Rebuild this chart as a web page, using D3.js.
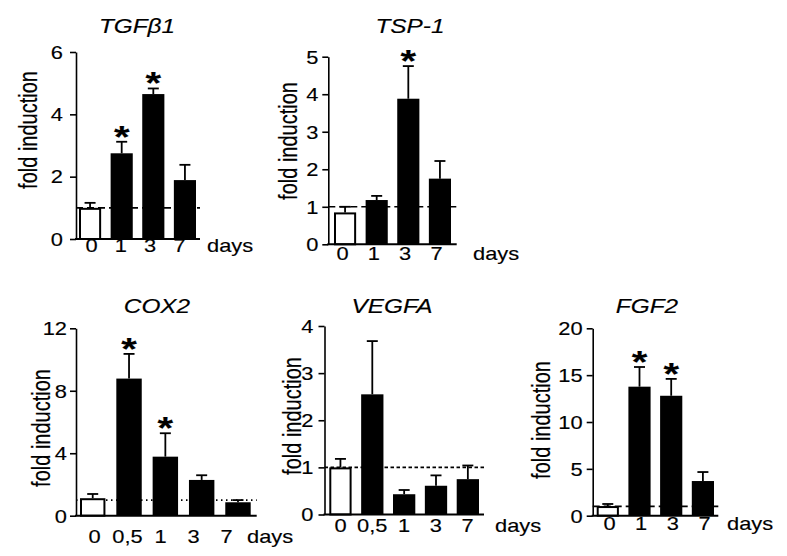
<!DOCTYPE html>
<html>
<head>
<meta charset="utf-8">
<script src="https://cdn.jsdelivr.net/npm/d3@7"></script>
<style>
  html, body { margin: 0; padding: 0; background: #fff; }
  svg text { font-family: "Liberation Sans", Arial, sans-serif; fill: #000; stroke: #000; stroke-width: 0.15px; }
</style>
</head>
<body>
<svg id="chart" width="787" height="556"></svg>
<script>
// ---------- data ----------
const titles = ["TGFβ1", "TSP-1", "COX2", "VEGFA", "FGF2"];
const daysFour = ["0", "1", "3", "7"];
const daysFive = ["0", "0,5", "1", "3", "7"];

const tgfMean = [1.0, 2.75, 4.65, 1.89];
const tgfSem  = [0.16, 0.37, 0.18, 0.49];
const tgfSig  = [false, true, true, false];
const tgfTicks = [0, 2, 4, 6];

const tspMean = [0.85, 1.18, 3.88, 1.75];
const tspSem  = [0.15, 0.11, 0.87, 0.47];
const tspSig  = [false, false, true, false];
const tspTicks = [0, 1, 2, 3, 4, 5];

const coxMean = [1.12, 8.78, 3.78, 2.29, 0.86];
const coxSem  = [0.27, 1.58, 1.5, 0.3, 0.14];
const coxSig  = [false, true, true, false, false];
const coxTicks = [0, 4, 8, 12];

const vegMean = [1.0, 2.55, 0.43, 0.61, 0.75];
const vegSem  = [0.18, 1.13, 0.09, 0.22, 0.29];
const vegSig  = [false, false, false, false, false];
const vegTicks = [0, 1, 2, 3, 4];

const fgfMean = [1.03, 13.77, 12.8, 3.7];
const fgfSem  = [0.22, 2.1, 1.8, 0.96];
const fgfSig  = [false, true, true, false];
const fgfTicks = [0, 5, 10, 15, 20];

const yLabel = "fold induction";
const xUnit = "days";

// ---------- layout (positions / styles) ----------
const layout = [
  { ax: 76,    y0: 239,   yTop: 52,    barL: 79,    barR: 196,   xEnd: 200,   dash: "7,4",
    labRange: [91, 179],  tickPad: 7, xPad: 1,  daysX: 207, titleX: 137, titleY: 33, labX: 37,  labY: 130 },
  { ax: 328.3, y0: 244.3, yTop: 56.7,  barL: 334,   barR: 451,   xEnd: 456.7, dash: "7,4",
    labRange: [342, 436], tickPad: 4, xPad: 3,  daysX: 473, titleX: 410, titleY: 33, labX: 297, labY: 141 },
  { ax: 76,    y0: 515.7, yTop: 328.3, barL: 80,    barR: 250.7, xEnd: 256.7, dash: "1.5,3.5",
    labRange: [94, 226],  tickPad: 3, xPad: 15, daysX: 247, titleX: 157, titleY: 313, labX: 50, labY: 428 },
  { ax: 324.5, y0: 514.5, yTop: 326,   barL: 329.3, barR: 479,   xEnd: 484,   dash: "3.5,2.5",
    labRange: [340, 467], tickPad: 5, xPad: 5,  daysX: 495, titleX: 392, titleY: 313, labX: 301, labY: 416 },
  { ax: 592.7, y0: 515.7, yTop: 328.3, barL: 596.7, barR: 714,   xEnd: 718.3, dash: "7,4",
    labRange: [609, 704], tickPad: 4, xPad: 2,  daysX: 727, titleX: 647, titleY: 313, labX: 550, labY: 420 }
];

const panelData = [
  { cats: daysFour, mean: tgfMean, sem: tgfSem, sig: tgfSig, ticks: tgfTicks },
  { cats: daysFour, mean: tspMean, sem: tspSem, sig: tspSig, ticks: tspTicks },
  { cats: daysFive, mean: coxMean, sem: coxSem, sig: coxSig, ticks: coxTicks },
  { cats: daysFive, mean: vegMean, sem: vegSem, sig: vegSig, ticks: vegTicks },
  { cats: daysFour, mean: fgfMean, sem: fgfSem, sig: fgfSig, ticks: fgfTicks }
];

const svg = d3.select("#chart");
const FS = 17.5;     // tick / unit font size
const SX = 1.25;     // horizontal glyph stretch seen in the figure

// stretch a text horizontally around its own anchor point
function stretch(sel) {
  sel.each(function () {
    const t = d3.select(this);
    const x = +t.attr("x") || 0;
    const y = +t.attr("y") || 0;
    t.attr("x", 0).attr("y", 0)
     .attr("transform", `translate(${x},${y}) scale(${SX},1)`);
  });
}

function drawPanel(cfg, d, title) {
  const g = svg.append("g");
  const y = d3.scaleLinear().domain([0, d3.max(d.ticks)]).range([cfg.y0, cfg.yTop]);
  const x = d3.scaleBand().domain(d.cats).range([cfg.barL, cfg.barR]).paddingInner(0.3).paddingOuter(0);
  const xl = d3.scalePoint().domain(d.cats).range(cfg.labRange);
  const rows = d.cats.map((c, i) => ({ c, m: d.mean[i], s: d.sem[i], sig: d.sig[i], i }));
  const cx = r => x(r.c) + x.bandwidth() / 2;

  // reference line at 1
  g.append("line")
    .attr("x1", cfg.ax).attr("x2", cfg.xEnd)
    .attr("y1", y(1)).attr("y2", y(1))
    .attr("stroke", "#000").attr("stroke-width", 1.6)
    .attr("stroke-dasharray", cfg.dash);

  // error bars (upper only)
  const eb = g.selectAll(".eb").data(rows).enter().append("g");
  eb.append("line")
    .attr("x1", cx).attr("x2", cx)
    .attr("y1", r => y(r.m)).attr("y2", r => y(r.m + r.s))
    .attr("stroke", "#000").attr("stroke-width", 1.8);
  eb.append("line")
    .attr("x1", r => cx(r) - 5.5).attr("x2", r => cx(r) + 5.5)
    .attr("y1", r => y(r.m + r.s)).attr("y2", r => y(r.m + r.s))
    .attr("stroke", "#000").attr("stroke-width", 1.8);

  // bars
  g.selectAll(".bar").data(rows).enter().append("rect")
    .attr("x", r => x(r.c) + (r.i === 0 ? 1 : 0))
    .attr("y", r => y(r.m) + (r.i === 0 ? 1 : 0))
    .attr("width", r => x.bandwidth() - (r.i === 0 ? 2 : 0))
    .attr("height", r => y(0) - y(r.m) - (r.i === 0 ? 1 : 0))
    .attr("fill", r => r.i === 0 ? "#fff" : "#000")
    .attr("stroke", "#000")
    .attr("stroke-width", r => r.i === 0 ? 2 : 0);

  // significance stars
  g.selectAll(".star").data(rows.filter(r => r.sig)).enter().append("text")
    .attr("x", cx)
    .attr("y", r => y(r.m + r.s) + 6)
    .attr("text-anchor", "middle")
    .style("font-size", "32px").style("font-weight", "bold")
    .text("*")
    .call(stretch);

  // y axis
  const ya = g.append("g").attr("transform", `translate(${cfg.ax},0)`)
    .call(d3.axisLeft(y).tickValues(d.ticks).tickFormat(d3.format("d"))
      .tickSize(6).tickSizeOuter(0).tickPadding(cfg.tickPad));
  ya.select(".domain").attr("stroke-width", 1.6);
  ya.selectAll(".tick line").attr("stroke-width", 1.6);
  ya.selectAll(".tick text").style("font-size", FS + "px").attr("font-family", null)
    .attr("dy", null)
    .each(function () {
      const t = d3.select(this);
      const xx = +t.attr("x");
      t.attr("x", 0).attr("transform", `translate(${xx},${FS * 0.36}) scale(${SX},1)`);
    });

  // x axis line
  g.append("line")
    .attr("x1", cfg.ax - 1).attr("x2", cfg.xEnd)
    .attr("y1", cfg.y0).attr("y2", cfg.y0)
    .attr("stroke", "#000").attr("stroke-width", 2);
  // x labels (days)
  const xa = g.append("g").attr("transform", `translate(0,${cfg.y0})`)
    .call(d3.axisBottom(xl).tickSize(0).tickPadding(cfg.xPad));
  xa.select(".domain").remove();
  xa.selectAll(".tick text").style("font-size", FS + "px").attr("font-family", null)
    .attr("dy", null)
    .each(function () {
      const t = d3.select(this);
      const yy = +t.attr("y");
      t.attr("y", 0).attr("transform", `translate(0,${yy + FS * 0.71}) scale(${SX},1)`);
    });

  g.append("text")
    .attr("x", cfg.daysX).attr("y", cfg.y0 + cfg.xPad + FS * 0.71)
    .style("font-size", FS + "px")
    .text(xUnit)
    .call(stretch);

  // title
  g.append("text")
    .attr("x", cfg.titleX).attr("y", cfg.titleY)
    .attr("text-anchor", "middle")
    .style("font-size", "19.5px").style("font-style", "italic")
    .text(title)
    .call(stretch);

  // y label
  g.append("text")
    .attr("transform", `translate(${cfg.labX},${cfg.labY}) scale(${SX},1) rotate(-90)`)
    .attr("text-anchor", "middle")
    .style("font-size", "20px")
    .text(yLabel);
}

layout.forEach((cfg, i) => drawPanel(cfg, panelData[i], titles[i]));
</script>
</body>
</html>
